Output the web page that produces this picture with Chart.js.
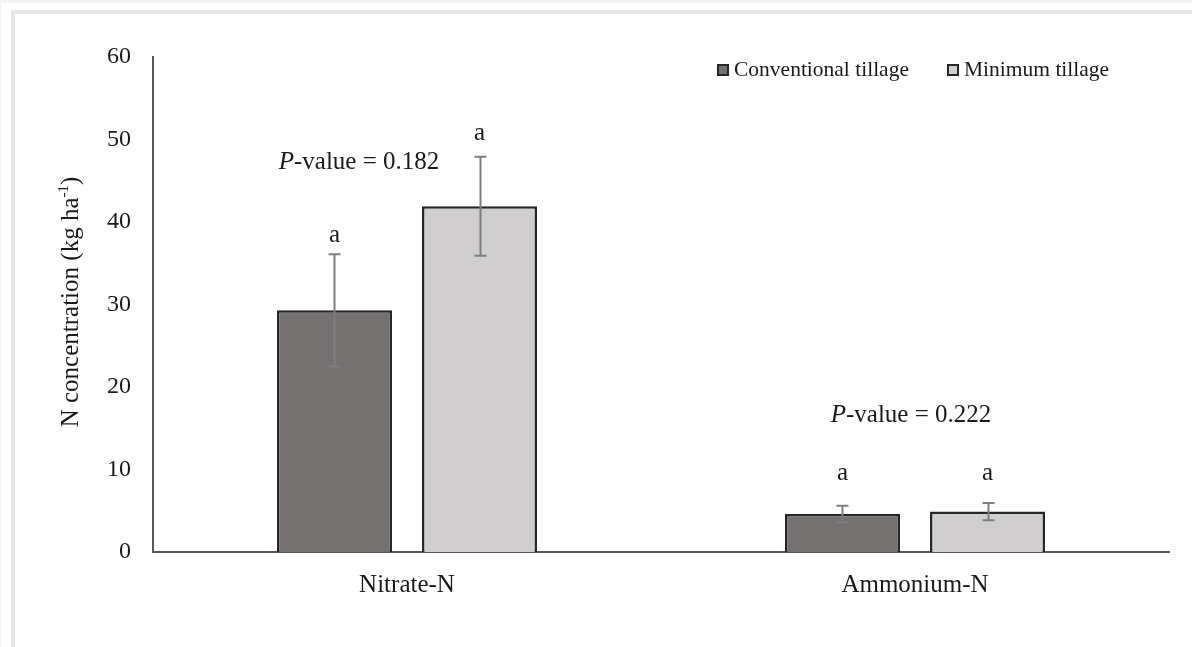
<!DOCTYPE html>
<html>
<head>
<meta charset="utf-8">
<script src="https://cdn.jsdelivr.net/npm/chart.js@4.4.1/dist/chart.umd.min.js"></script>
<style>
  html, body { margin: 0; padding: 0; width: 1192px; height: 647px; overflow: hidden; background: #f1f3f5; }
  #page { position: absolute; left: 1px; top: 3px; right: 0; bottom: 0; background: #ffffff; }
  #frame { position: absolute; left: 10px; top: 7px; width: 1300px; height: 800px;
           border-left: 4px solid #e6e6e6; border-top: 4px solid #e6e6e6; }
  #chart { position: absolute; left: 0; top: 0; }
</style>
</head>
<body>
<div id="page"><div id="frame"></div></div>
<canvas id="chart" width="1192" height="647"></canvas>
<script>
// Soil mineral N under two tillage systems
const categories = ['Nitrate-N', 'Ammonium-N'];
const seriesNames = ['Conventional tillage', 'Minimum tillage'];
const conventional = [29.3, 4.6];
const minimum = [41.9, 4.9];
const conventionalErr = [6.8, 1.0];
const minimumErr = [6.0, 1.05];
const letters = [['a', 'a'], ['a', 'a']];       // [series][category]
const pValues = ['0.182', '0.222'];             // per category
const yTicks = [0, 10, 20, 30, 40, 50, 60];

const SERIF = '"Liberation Serif", "Times New Roman", serif';
const TEXT = '#1a1a1a';

const errorBars = {
  id: 'errorBars',
  afterDatasetsDraw(chart) {
    const { ctx, scales: { y } } = chart;
    const errs = [conventionalErr, minimumErr];
    ctx.save();
    ctx.strokeStyle = '#7f7f7f';
    ctx.lineWidth = 2;
    chart.data.datasets.forEach((ds, i) => {
      const meta = chart.getDatasetMeta(i);
      meta.data.forEach((bar, j) => {
        const v = ds.data[j], e = errs[i][j];
        const x = Math.round(bar.x) + 0.5;
        const top = y.getPixelForValue(v + e);
        const bot = y.getPixelForValue(v - e);
        ctx.beginPath();
        ctx.moveTo(x, top); ctx.lineTo(x, bot);
        ctx.moveTo(x - 6, top); ctx.lineTo(x + 6, top);
        ctx.moveTo(x - 6, bot); ctx.lineTo(x + 6, bot);
        ctx.stroke();
      });
    });
    ctx.restore();
  }
};

const annotations = {
  id: 'annotations',
  afterDraw(chart, args, opts) {
    const { ctx, scales: { x, y } } = chart;
    const errs = [conventionalErr, minimumErr];
    ctx.save();
    ctx.fillStyle = TEXT;
    ctx.textAlign = 'center';
    ctx.textBaseline = 'middle';
    ctx.font = '25px ' + SERIF;
    // significance letters above each error bar
    chart.data.datasets.forEach((ds, i) => {
      const meta = chart.getDatasetMeta(i);
      meta.data.forEach((bar, j) => {
        const top = y.getPixelForValue(ds.data[j] + errs[i][j]);
        ctx.fillText(letters[i][j], bar.x, top - opts.letterGap[j][i]);
      });
    });
    // P-values per category
    pValues.forEach((p, j) => {
      const cx = x.getPixelForValue(j) + opts.pShift[j];
      const cy = y.getPixelForValue(opts.pLevel[j]);
      ctx.font = 'italic 25px ' + SERIF;
      const w1 = ctx.measureText('P').width;
      ctx.font = '25px ' + SERIF;
      const rest = '-value = ' + p;
      const w2 = ctx.measureText(rest).width;
      const x0 = cx - (w1 + w2) / 2;
      ctx.textAlign = 'left';
      ctx.font = 'italic 25px ' + SERIF;
      ctx.fillText('P', x0, cy);
      ctx.font = '25px ' + SERIF;
      ctx.fillText(rest, x0 + w1, cy);
      ctx.textAlign = 'center';
    });
    // y-axis title with superscript unit
    ctx.translate(70, 302);
    ctx.rotate(-Math.PI / 2);
    ctx.textAlign = 'left';
    ctx.textBaseline = 'alphabetic';
    const main = 'N concentration (kg ha', sup = '-1', close = ')';
    ctx.font = '25px ' + SERIF;
    const wm = ctx.measureText(main).width, wc = ctx.measureText(close).width;
    ctx.font = '15px ' + SERIF;
    const ws = ctx.measureText(sup).width;
    let px = -(wm + ws + wc) / 2;
    const base = 8;
    ctx.font = '25px ' + SERIF;
    ctx.fillText(main, px, base); px += wm;
    ctx.font = '15px ' + SERIF;
    ctx.fillText(sup, px, base - 10); px += ws;
    ctx.font = '25px ' + SERIF;
    ctx.fillText(close, px, base);
    ctx.restore();
  }
};

const insetLegend = {
  id: 'insetLegend',
  afterDraw(chart, args, opts) {
    const { ctx } = chart;
    ctx.save();
    ctx.font = '21.5px ' + SERIF;
    ctx.textBaseline = 'middle';
    ctx.textAlign = 'left';
    chart.data.datasets.forEach((ds, i) => {
      const bx = opts.x[i], by = opts.y;
      ctx.fillStyle = ds.backgroundColor;
      ctx.fillRect(bx, by - 5, 10, 10);
      ctx.strokeStyle = '#262626';
      ctx.lineWidth = 2;
      ctx.strokeRect(bx, by - 5, 10, 10);
      ctx.fillStyle = TEXT;
      ctx.fillText(ds.label, bx + 16, by);
    });
    ctx.restore();
  }
};

new Chart(document.getElementById('chart'), {
  type: 'bar',
  data: {
    labels: categories,
    datasets: [
      { label: seriesNames[0], data: conventional, backgroundColor: '#767171',
        borderColor: '#262626', borderWidth: 2.5, borderSkipped: 'bottom' },
      { label: seriesNames[1], data: minimum, backgroundColor: '#d0cece',
        borderColor: '#262626', borderWidth: 2.5, borderSkipped: 'bottom' }
    ]
  },
  options: {
    responsive: false,
    animation: false,
    devicePixelRatio: 1,
    categoryPercentage: 0.571,
    barPercentage: 0.793,
    layout: { padding: { top: 57, right: 23, left: 0, bottom: 0 } },
    plugins: {
      legend: { display: false },
      tooltip: { enabled: false },
      annotations: { letterGap: [[19, 23], [32, 29]], pShift: [-48, -4], pLevel: [47.2, 16.6] },
      insetLegend: { x: [718, 948], y: 70 }
    },
    scales: {
      x: {
        grid: { display: false, drawTicks: false },
        border: { display: true, color: '#595959', width: 2 },
        ticks: { color: TEXT, font: { family: SERIF, size: 25 }, padding: 18 },
        afterFit(scale) { scale.height = 95; }
      },
      y: {
        min: 0, max: 60,
        afterBuildTicks(scale) { scale.ticks = yTicks.map(v => ({ value: v })); },
        grid: { display: false, drawTicks: false },
        border: { display: true, color: '#595959', width: 2 },
        ticks: { color: TEXT, font: { family: SERIF, size: 24 }, padding: 22 },
        afterFit(scale) { scale.width = 153; }
      }
    }
  },
  plugins: [errorBars, annotations, insetLegend]
});
</script>
</body>
</html>
